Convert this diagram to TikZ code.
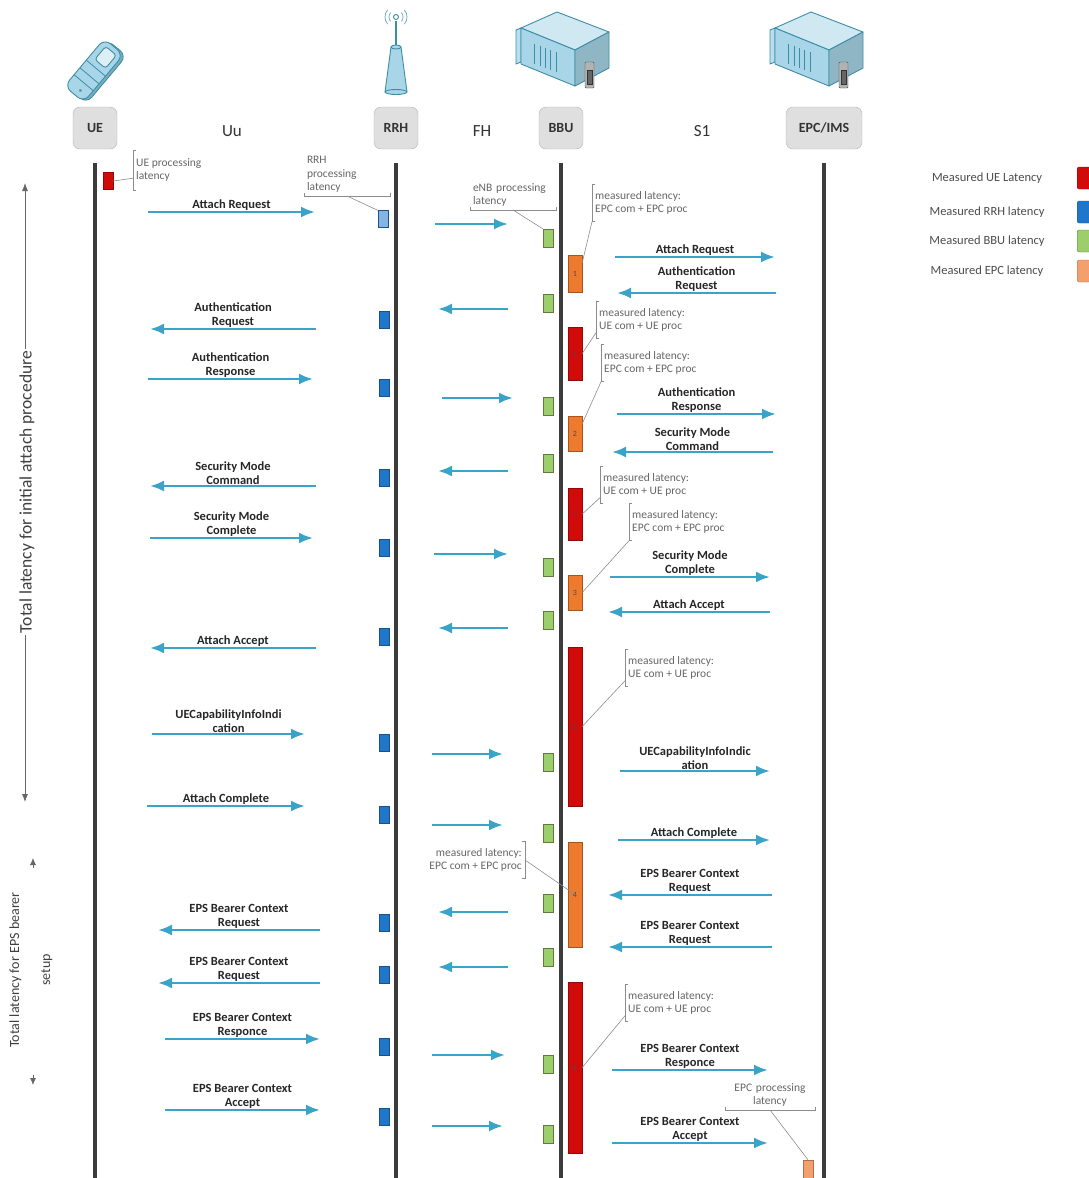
\documentclass[tikz,border=0pt]{standalone}
\usepackage{fontspec}
\setmainfont{Carlito}
\usepackage{tikz}
\usetikzlibrary{arrows.meta,shapes,positioning,calc}

\definecolor{msgblue}{HTML}{3AA4C8}
\definecolor{uered}{HTML}{D10A0A}
\definecolor{rrhblue}{HTML}{1F77C9}
\definecolor{bbugreen}{HTML}{9CCF6B}
\definecolor{epcorange}{HTML}{EE7A2E}
\definecolor{epclight}{HTML}{F3A06E}
\definecolor{iconblue}{HTML}{A8D6E8}
\definecolor{iconline}{HTML}{3E8DA6}
\definecolor{linegray}{HTML}{3C3C3C}

\tikzstyle{entity} = [rectangle, draw=gray!60, fill=gray!25, rounded corners=7pt, minimum height=42pt, minimum width=44pt, font=\fontsize{14}{16}\selectfont\bfseries, text=black!80]
\tikzstyle{iface} = [font=\fontsize{17}{19}\selectfont, text=black!80]
\tikzstyle{lifeline} = [line width=4pt, color=linegray]
\tikzstyle{msg} = [draw, line width=2.4pt, color=msgblue, -{Latex[length=14pt,width=11pt]}]
\tikzstyle{msglabel} = [font=\fontsize{12.5}{14}\selectfont\bfseries, text=black!85, align=center, inner sep=0.5pt]
\tikzstyle{note} = [font=\fontsize{11.5}{13.5}\selectfont, text=black!60, inner sep=3pt]
\tikzstyle{brace} = [draw=black!45, line width=0.6pt]
\tikzstyle{smallbox} = [rectangle, draw, minimum width=10pt, minimum height=17pt, inner sep=0pt]
\tikzstyle{uebox} = [smallbox, fill=uered, draw=uered!70!black]
\tikzstyle{rrhbox} = [smallbox, fill=rrhblue, draw=rrhblue!70!black]
\tikzstyle{bbubox} = [smallbox, fill=bbugreen, draw=bbugreen!60!black, minimum height=18pt]
\tikzstyle{epcbox} = [smallbox, fill=epclight, draw=epclight!70!black]
\tikzstyle{meas} = [rectangle, minimum width=14pt, inner sep=0pt, font=\fontsize{8}{8}\selectfont, text=black!70]
\tikzstyle{legtext} = [font=\fontsize{12.5}{14}\selectfont, text=black!70]
\tikzstyle{legbox} = [rectangle, rounded corners=2pt, minimum width=20pt, minimum height=22pt, anchor=west]
\tikzstyle{icon} = [draw=iconline, fill=iconblue, line width=0.9pt, line join=round]

\begin{document}
\begin{tikzpicture}[x=1pt, y=-1pt]
	\useasboundingbox (0,0) rectangle (1089,1178);
	\coordinate (bottom) at (0,1180);

	% Place nodes
	\node [entity] (ue) at (95,128) {UE};
	\node [entity] (rrh) at (396,128) {RRH};
	\node [entity] (bbu) at (561,128) {BBU};
	\node [entity, minimum width=76pt] (epc) at (824,128) {EPC/IMS};
	\node [iface] (uu) at (232,131) {Uu};
	\node [iface] (fh) at (482,131) {FH};
	\node [iface] (s1) at (702,131) {S1};

	% Lifelines
	\foreach \e in {ue,rrh,bbu,epc}
		\draw [lifeline] ([yshift=-14pt]\e.south) -- (\e.south |- bottom);

	% Handset
	\begin{scope}[shift={(95,70)}, rotate=50]
		\draw [icon, fill=iconline!70, rounded corners=8pt] (-31,-10) rectangle (31,15);
		\draw [icon, rounded corners=8pt] (-32,-13) rectangle (30,12);
		\draw [icon, fill=iconblue!40, rounded corners=3pt] (8,-7) rectangle (25,7);
		\draw [iconline, line width=0.8pt] (2,-13) -- (2,12);
		\draw [iconline, line width=0.8pt] (-8,-13) -- (-8,12);
		\draw [iconline, line width=0.8pt] (-17,-13) -- (-17,12);
		\fill [iconline] (-25,2) circle (1.5);
	\end{scope}

	% Antenna
	\draw [icon] (385,92) -- (391,47) -- (401,47) -- (407,92) -- cycle;
	\draw [icon] (396,92) ellipse (11 and 2.5);
	\draw [icon] (396,47) ellipse (5 and 2);
	\draw [iconline, line width=1.2pt] (396,45) -- (396,21);
	\draw [iconline, line width=0.9pt] (396,17) circle (2.5);
	\draw [iconline!70, line width=0.8pt] (396,17) ++(140:7) arc[start angle=140, end angle=220, radius=7];
	\draw [iconline!70, line width=0.8pt] (396,17) ++(-40:7) arc[start angle=-40, end angle=40, radius=7];
	\draw [iconline!70, line width=0.8pt] (396,17) ++(140:11) arc[start angle=140, end angle=220, radius=11];
	\draw [iconline!70, line width=0.8pt] (396,17) ++(-40:11) arc[start angle=-40, end angle=40, radius=11];

	% Rack servers
	\foreach \sx in {563,817} {
		\begin{scope}[shift={(\sx,0)}]
			\draw [icon, fill=iconblue!80] (-47,30) -- (-42,28) -- (-42,62) -- (-47,64) -- cycle;
			\draw [icon, fill=iconblue!55] (-42,28) -- (-6,12) -- (46,32) -- (12,50) -- cycle;
			\draw [icon] (-42,28) -- (12,50) -- (12,86) -- (-42,64) -- cycle;
			\draw [icon, fill=iconblue!85!black] (12,50) -- (46,32) -- (46,68) -- (12,86) -- cycle;
			\foreach \t in {0.25,0.35,0.45,0.55,0.65} \draw [iconline, line width=0.8pt] ($(-42,38)!\t!(12,60)$) -- ++(0,20);
			\draw [draw=black!70, fill=gray!60, rounded corners=1pt] (22,62) rectangle (31,88);
			\draw [draw=black!80, fill=black!60] (24,70) rectangle (29,84);
		\end{scope}
	}

	% Processing latency boxes
	\node [uebox] (uep) at (108,181) {};
	\node [rrhbox, fill=rrhblue!55] (rrh0) at (383,219) {};
	\foreach \y [count=\i] in {320,388,478,548,637,743,815,923,975,1047,1117}
		\node [rrhbox] (rrh\i) at (384,\y) {};
	\foreach \y [count=\i] in {238,303,406,463,567,620,762,833,903,957,1064,1134}
		\node [bbubox] (bbu\i) at (548,\y) {};
	\node [meas, fill=epcorange, draw=epcorange!70!black, minimum height=37pt] (o1) at (575,273.5) {1};
	\node [meas, fill=uered, draw=uered!70!black, minimum height=53pt] (r1) at (575,353.5) {1};
	\node [meas, fill=epcorange, draw=epcorange!70!black, minimum height=35pt] (o2) at (575,433.5) {2};
	\node [meas, fill=uered, draw=uered!70!black, minimum height=52pt] (r2) at (575,514) {2};
	\node [meas, fill=epcorange, draw=epcorange!70!black, minimum height=35pt] (o3) at (575,592.5) {3};
	\node [meas, fill=uered, draw=uered!70!black, minimum height=159pt] (r3) at (575,726.5) {3};
	\node [meas, fill=epcorange, draw=epcorange!70!black, minimum height=105pt] (o4) at (575,894.5) {4};
	\node [meas, fill=uered, draw=uered!70!black, minimum height=171pt] (r4) at (575,1067.5) {4};
	\node [epcbox, minimum height=20pt] (epcp) at (808,1170) {};

	% Uu messages
	\foreach \n/\y/\xa/\xb/\txt in {
		1/212/148/315/{Attach Request},
		2/329/316/150/{Authentication\\Request},
		3/379/148/313/{Authentication\\Response},
		4/486/316/150/{Security Mode\\Command},
		5/538/150/313/{Security Mode\\Complete},
		6/648/316/150/{Attach Accept},
		7/734/152/305/{UECapabilityInfoIndi\\cation},
		8/806/147/305/{Attach Complete},
		9/930/320/158/{EPS Bearer Context\\Request},
		10/983/320/158/{EPS Bearer Context\\Request},
		11/1039/165/320/{EPS Bearer Context\\Responce},
		12/1110/165/320/{EPS Bearer Context\\Accept}} {
		\coordinate (uus\n) at (\xa,\y);
		\coordinate (uue\n) at (\xb,\y);
		\path [msg] (uus\n) -- node [msglabel, above] {\txt} (uue\n);
	}

	% FH messages
	\foreach \y/\xa/\xb [count=\n] in {224/435/508, 309/508/438, 398/442/513, 471/508/438,
		554/434/508, 628/508/438, 754/432/503, 825/432/503, 912/508/438, 967/508/438,
		1055/432/505, 1126/432/503} {
		\coordinate (fhs\n) at (\xa,\y);
		\coordinate (fhe\n) at (\xb,\y);
		\path [msg] (fhs\n) -- (fhe\n);
	}

	% S1 messages
	\foreach \n/\y/\xa/\xb/\txt in {
		1/257/615/775/{Attach Request},
		2/293/776/617/{Authentication\\Request},
		3/414/617/776/{Authentication\\Response},
		4/452/773/612/{Security Mode\\Command},
		5/577/610/770/{Security Mode\\Complete},
		6/612/770/608/{Attach Accept},
		7/771/620/770/{UECapabilityInfoIndic\\ation},
		8/840/618/770/{Attach Complete},
		9/895/772/608/{EPS Bearer Context\\Request},
		10/947/772/608/{EPS Bearer Context\\Request},
		11/1070/612/768/{EPS Bearer Context\\Responce},
		12/1143/612/768/{EPS Bearer Context\\Accept}} {
		\coordinate (s1s\n) at (\xa,\y);
		\coordinate (s1e\n) at (\xb,\y);
		\path [msg] (s1s\n) -- node [msglabel, above] {\txt} (s1e\n);
	}

	% Notes with brackets
	\node [note, anchor=west, align=left, minimum height=40pt] (nue) at (133,170) {UE processing\\latency};
	\draw [brace] ([xshift=3pt]nue.north west) -- (nue.north west) -- (nue.south west) -- ([xshift=3pt]nue.south west);
	\draw [brace] (uep.east) -- ([yshift=12pt]nue.south west);

	\node [note, anchor=south, align=left, text width=80pt] (nrrh) at (347,196) {RRH\\processing\\latency};
	\draw [brace] ([yshift=3pt]nrrh.south west) -- (nrrh.south west) -- (nrrh.south east) -- ([yshift=3pt]nrrh.south east);
	\draw [brace] (nrrh.south) -- (rrh0.north west);

	\node [note, anchor=south, align=left, text width=80pt] (nenb) at (513,210) {eNB processing\\latency};
	\draw [brace] ([yshift=3pt]nenb.south west) -- (nenb.south west) -- (nenb.south east) -- ([yshift=3pt]nenb.south east);
	\draw [brace] (nenb.south) -- (bbu1.north west);

	\foreach \m/\bx/\by/\txt in {
		n1/592/203/{measured latency:\\ EPC com + EPC proc},
		n2/596/320/{measured latency:\\UE com + UE proc},
		n3/601/363/{measured latency:\\ EPC com + EPC proc},
		n4/600/485/{measured latency:\\ UE com + UE proc},
		n5/629/522/{measured latency:\\ EPC com + EPC proc},
		n6/625/668/{measured latency:\\UE com + UE proc},
		n8/625/1003/{measured latency:\\UE com + UE proc}} {
		\node [note, anchor=west, align=left, minimum height=37pt] (\m) at (\bx,\by) {\txt};
		\draw [brace] ([xshift=3pt]\m.north west) -- (\m.north west) -- (\m.south west) -- ([xshift=3pt]\m.south west);
	}
	\node [note, anchor=east, align=right, minimum height=37pt] (n7) at (525,860) {measured latency:\\EPC com + EPC proc};
	\draw [brace] ([xshift=-3pt]n7.north east) -- (n7.north east) -- (n7.south east) -- ([xshift=-3pt]n7.south east);

	\node [note, anchor=south, align=center, text width=84pt] (nepc) at (770,1110) {EPC processing\\latency};
	\draw [brace] ([yshift=3pt]nepc.south west) -- (nepc.south west) -- (nepc.south east) -- ([yshift=3pt]nepc.south east);

	% Leaders from boxes to notes
	\draw [brace] ([yshift=-8pt]o1.north east) -- (n1.south west);
	\draw [brace] (r1.east) -- ([yshift=6pt]n2.south west);
	\draw [brace] ([yshift=-8pt]o2.north east) -- (n3.south west);
	\draw [brace] (r2.east) -- ([yshift=6pt]n4.south west);
	\draw [brace] (o3.east) -- (n5.south west);
	\draw [brace] (r3.east) -- ([yshift=6pt]n6.south west);
	\draw [brace] (n7.east) -- (o4.center);
	\draw [brace] (r4.east) -- ([yshift=6pt]n8.south west);
	\draw [brace] (nepc.south) -- (epcp.north);

	% Legend
	\node [legtext] (lue) at (987,178) {Measured UE Latency};
	\node [legtext] (lrrh) at (987,212) {Measured RRH latency};
	\node [legtext] (lbbu) at (987,241) {Measured BBU latency};
	\node [legtext] (lepc) at (987,271) {Measured EPC latency};
	\node [legbox, fill=uered, draw=uered!70!black] (kue) at (1077,178) {};
	\node [legbox, fill=rrhblue, draw=rrhblue!70!black] (krrh) at (1077,212) {};
	\node [legbox, fill=bbugreen, draw=bbugreen!60!black] (kbbu) at (1077,241) {};
	\node [legbox, fill=epclight, draw=epclight!70!black] (kepc) at (1077,271) {};

	% Total latency markers
	\coordinate (attop) at (25,183);
	\coordinate (atbot) at (25,802);
	\draw [{Latex[length=8pt,width=6pt]}-{Latex[length=8pt,width=6pt]}, black!60, line width=0.8pt] (attop) -- (atbot);
	\node [rotate=90, fill=white, inner sep=2pt, font=\fontsize{17.5}{19}\selectfont, text=black!75] (atlabel) at (27,492) {Total latency for initial attach procedure};
	\coordinate (ebtop) at (33,858);
	\coordinate (ebbot) at (33,1085);
	\draw [-{Latex[length=7pt,width=6pt]}, black!60, line width=0.8pt] ([yshift=-10pt]ebtop) -- (ebtop);
	\draw [-{Latex[length=7pt,width=6pt]}, black!60, line width=0.8pt] ([yshift=10pt]ebbot) -- (ebbot);
	\node [rotate=90, align=center, font=\fontsize{14}{31}\selectfont, text=black!75] (eblabel) at (31,970) {Total latency for EPS bearer\\setup};
\end{tikzpicture}
\end{document}
